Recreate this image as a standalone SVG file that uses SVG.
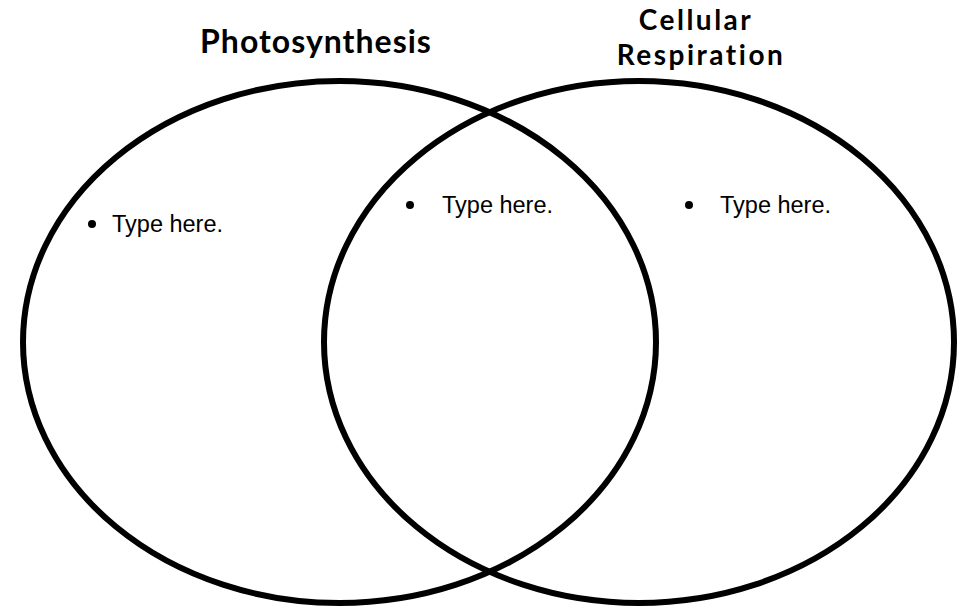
<svg xmlns="http://www.w3.org/2000/svg" width="958" height="607" viewBox="0 0 958 607">
<style>
.circle{fill:none;stroke:#000;stroke-width:6}
.title{font-family:"Lato","Open Sans","Liberation Sans",sans-serif;font-weight:bold;font-size:32px;letter-spacing:1px;fill:#000;text-anchor:middle}
.title2{font-size:28px;letter-spacing:2.5px}
.item{font-family:"Liberation Sans","DejaVu Sans",sans-serif;font-size:23.5px;fill:#000}
.dot{fill:#000}
</style>
<rect width="958" height="607" fill="#fff"/>
<g id="photosynthesis">
<ellipse class="circle" cx="339.5" cy="342" rx="316.5" ry="261"/>
<text class="title" x="316" y="53">Photosynthesis</text>
<circle class="dot" cx="92" cy="224" r="4"/>
<text class="item" x="112" y="232">Type here.</text>
</g>
<g id="cellular-respiration">
<ellipse class="circle" cx="639" cy="342" rx="315" ry="261"/>
<text class="title title2" x="696" y="30">Cellular</text>
<text class="title title2" x="701" y="65">Respiration</text>
<circle class="dot" cx="689" cy="205" r="4"/>
<text class="item" x="720" y="213">Type here.</text>
</g>
<g id="both">
<circle class="dot" cx="410" cy="205" r="4"/>
<text class="item" x="442" y="213">Type here.</text>
</g>
</svg>
